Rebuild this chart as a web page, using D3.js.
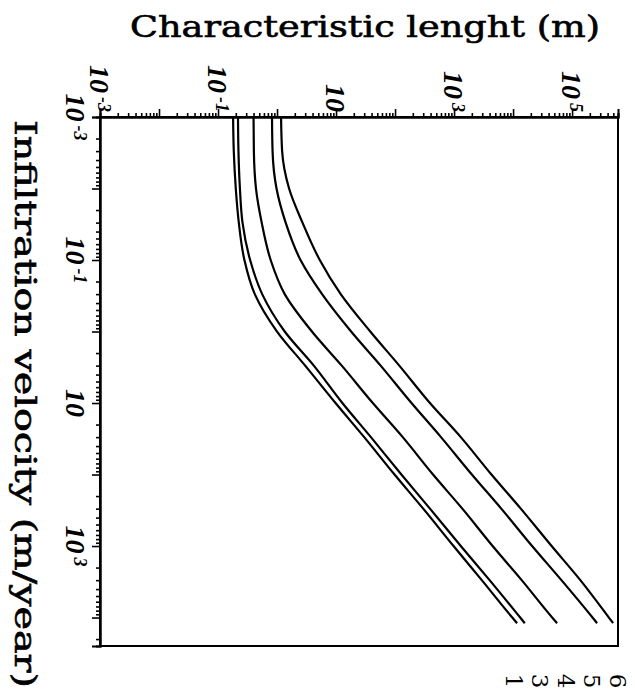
<!DOCTYPE html>
<html>
<head>
<meta charset="utf-8">
<script src="https://cdn.jsdelivr.net/npm/d3@7"></script>
<style>
  body { margin: 0; background: #fff; }
  .tick line { stroke: #000; stroke-width: 1.6px; }
  .domain { stroke: #000; stroke-width: 2px; }
</style>
</head>
<body>
<svg id="chart"></svg>
<script>
// Values (velocity in m/year, length in m)
const velocity = [0.001, 0.003, 0.01, 0.03, 0.1, 0.3, 1, 3, 10, 30, 100, 300, 1000, 3000, 10000, 12000];
const curveNames = ["1", "3", "4", "5", "6"];
const length1 = [0.18, 0.185, 0.2, 0.225, 0.28, 0.42, 1.0, 3.0, 9.8, 30, 98, 300, 980, 2950, 9700, 11700];
const length3 = [0.218, 0.222, 0.235, 0.26, 0.35, 0.56, 1.35, 4.2, 12.8, 39, 128, 390, 1300, 4000, 13200, 15800];
const length4 = [0.4, 0.405, 0.44, 0.55, 0.78, 1.35, 3.9, 12.5, 42, 135, 440, 1380, 4500, 14000, 46000, 55700];
const length5 = [0.822, 0.84, 0.98, 1.4, 2.5, 5.8, 18, 57, 190, 600, 2000, 6300, 21000, 66000, 222000, 265000];
const length6 = [1.17, 1.22, 1.6, 2.7, 5.3, 12, 38, 118, 390, 1300, 4300, 13500, 45000, 138000, 420000, 496000];
const lengthTickExps = [-3, -1, 1, 3, 5];
const velocityTickExps = [-3, -1, 1, 3];
const lengthDomain = [1e-3, 6e5];
const velocityDomain = [1e-3, 2.5e4];

const width = 635, height = 692;
const margin = { top: 117, right: 17, bottom: 46, left: 100 };

const svg = d3.select("#chart")
  .attr("width", width)
  .attr("height", height)
  .style("font-family", "'DejaVu Serif', serif");

svg.append("rect").attr("width", width).attr("height", height).attr("fill", "#fff");

// Figure is drawn turned a quarter: velocity runs down, length runs right
const x = d3.scaleLog().domain(lengthDomain).range([margin.left, width - margin.right]);
const y = d3.scaleLog().domain(velocityDomain).range([margin.top, height - margin.bottom]);

function logTicks(domain) {
  const out = [];
  for (let e = -3; e <= 6; e++)
    for (let m = 1; m <= 9; m++) {
      const v = m * Math.pow(10, e);
      if (v >= domain[0] * 0.999 && v <= domain[1]) out.push(v);
    }
  return out;
}
const isMajor = v => Math.abs(Math.log10(v) - Math.round(Math.log10(v))) < 1e-6;

// frame
svg.append("rect")
  .attr("x", margin.left).attr("y", margin.top)
  .attr("width", width - margin.right - margin.left)
  .attr("height", height - margin.bottom - margin.top)
  .attr("fill", "none").attr("stroke", "#000").attr("stroke-width", 2);

// top axis, minor then major ticks
svg.append("g").attr("transform", `translate(0,${margin.top})`)
  .call(d3.axisTop(x).tickValues(logTicks(lengthDomain).filter(v => !isMajor(v))).tickSize(4).tickFormat(""));
svg.append("g").attr("transform", `translate(0,${margin.top})`)
  .call(d3.axisTop(x).tickValues(logTicks(lengthDomain).filter(isMajor)).tickSize(8).tickFormat(""));

// left axis
svg.append("g").attr("transform", `translate(${margin.left},0)`)
  .call(d3.axisLeft(y).tickValues(logTicks(velocityDomain).filter(v => !isMajor(v))).tickSize(4).tickFormat(""));
svg.append("g").attr("transform", `translate(${margin.left},0)`)
  .call(d3.axisLeft(y).tickValues(logTicks(velocityDomain).filter(isMajor)).tickSize(8).tickFormat(""));

function powerLabel(sel, e) {
  sel.append("tspan").text("10");
  if (e !== 1)
    sel.append("tspan").attr("dx", 4).attr("dy", "-0.45em").attr("font-size", 18).text(e);
}

const labelFont = "'Liberation Serif', serif";

lengthTickExps.forEach(e => {
  svg.append("text")
    .attr("transform", `translate(${x(Math.pow(10, e))},${margin.top - 5}) rotate(90)`)
    .attr("text-anchor", "end")
    .attr("dy", "0.35em")
    .attr("font-family", labelFont)
    .attr("font-style", "italic")
    .attr("font-weight", "bold")
    .attr("font-size", 28)
    .call(powerLabel, e);
});

velocityTickExps.forEach(e => {
  svg.append("text")
    .attr("transform", `translate(${margin.left - 24},${y(Math.pow(10, e))}) rotate(90)`)
    .attr("text-anchor", "middle")
    .attr("dy", "0.35em")
    .attr("font-family", labelFont)
    .attr("font-style", "italic")
    .attr("font-weight", "bold")
    .attr("font-size", 28)
    .call(powerLabel, e);
});

// titles
svg.append("text")
  .attr("x", 130).attr("y", 37)
  .attr("font-size", 29)
  .attr("textLength", 470)
  .attr("lengthAdjust", "spacingAndGlyphs")
  .attr("stroke", "#000").attr("stroke-width", 0.6)
  .text("Characteristic lenght (m)");

svg.append("text")
  .attr("transform", `translate(15,120) rotate(90)`)
  .attr("font-size", 29)
  .attr("textLength", 568)
  .attr("lengthAdjust", "spacingAndGlyphs")
  .attr("stroke", "#000").attr("stroke-width", 0.6)
  .text("Infiltration velocity (m/year)");

// curves
const series = [length1, length3, length4, length5, length6];
const line = d3.line()
  .x(d => x(d[1]))
  .y(d => y(d[0]))
  .curve(d3.curveMonotoneY);

series.forEach(lengths => {
  svg.append("path")
    .datum(velocity.map((v, i) => [v, lengths[i]]))
    .attr("d", line)
    .attr("fill", "none")
    .attr("stroke", "#000")
    .attr("stroke-width", 2.2);
});

// curve numbers under the frame
const right = width - margin.right;
curveNames.forEach((name, i) => {
  svg.append("text")
    .attr("transform", `translate(${right - (curveNames.length - 1 - i) * 26},681) rotate(90)`)
    .attr("text-anchor", "middle")
    .attr("dy", "0.35em")
    .attr("font-size", 23)
    .text(name);
});
</script>
</body>
</html>
